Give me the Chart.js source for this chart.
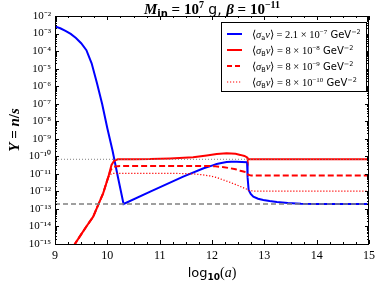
<!DOCTYPE html>
<html>
<head>
<meta charset="utf-8">
<script src="https://cdn.jsdelivr.net/npm/chart.js@4.4.1/dist/chart.umd.min.js"></script>
<style>
  html, body { margin: 0; padding: 0; background: #fff; }
  #wrap { width: 380px; height: 283px; }
</style>
</head>
<body>
<div id="wrap"><canvas id="chart"></canvas></div>
<script>
// x = log10(a), y values given as log10(Y)
const blueX = [9.00, 9.10, 9.20, 9.30, 9.40, 9.50, 9.60, 9.70, 9.80, 9.90, 10.00, 10.10, 10.20, 10.31,
  10.82, 11.45, 11.84, 12.00, 12.09, 12.18, 12.28, 12.37, 12.47, 12.57, 12.67, 12.68, 12.70, 12.74,
  12.79, 12.88, 12.98, 13.10, 13.24, 13.45, 13.70, 14.00, 15.00];
const blueLogY = [-2.60, -2.70, -2.85, -3.02, -3.25, -3.55, -3.95, -4.70, -5.80, -7.00, -8.40, -9.68, -11.15, -12.72,
  -12.01, -11.16, -10.68, -10.53, -10.44, -10.38, -10.33, -10.31, -10.31, -10.32, -10.34, -11.20, -11.92, -12.15,
  -12.30, -12.42, -12.49, -12.55, -12.60, -12.66, -12.70, -12.72, -12.72];

const redX = [9.30, 9.38, 9.50, 9.60, 9.73, 9.85, 9.92, 10.02, 10.08, 10.13, 10.20, 10.50, 10.82, 11.20,
  11.64, 11.90, 12.09, 12.28, 12.45, 12.54, 12.62, 12.67, 12.68, 13.00, 14.00, 15.00];
const redLogY = [-15.6, -15.0, -14.45, -14.0, -13.44, -12.6, -12.11, -11.16, -10.49, -10.25, -10.17, -10.17, -10.16, -10.12,
  -10.06, -9.95, -9.87, -9.83, -9.86, -9.92, -9.98, -10.06, -10.17, -10.17, -10.17, -10.17];

const redDashX = [9.30, 9.38, 9.50, 9.60, 9.73, 9.85, 9.92, 10.02, 10.07, 10.12, 10.20, 10.60, 11.00, 11.60,
  12.03, 12.20, 12.35, 12.45, 12.54, 12.62, 12.67, 12.69, 12.75, 13.00, 14.00, 15.00];
const redDashLogY = [-15.6, -15.0, -14.45, -14.0, -13.44, -12.6, -12.11, -11.16, -10.75, -10.60, -10.56, -10.55, -10.55, -10.55,
  -10.56, -10.61, -10.68, -10.74, -10.82, -10.88, -10.91, -11.05, -11.10, -11.10, -11.10, -11.10];

const redDotX = [9.30, 9.38, 9.50, 9.60, 9.73, 9.85, 9.92, 10.00, 10.05, 10.10, 10.20, 10.60, 11.00, 11.40,
  11.64, 11.80, 11.96, 12.10, 12.22, 12.35, 12.47, 12.58, 12.67, 12.70, 12.80, 13.00, 14.00, 15.00];
const redDotLogY = [-15.6, -15.0, -14.45, -14.0, -13.44, -12.6, -12.11, -11.35, -11.05, -10.98, -10.97, -10.97, -10.97, -10.98,
  -11.00, -11.05, -11.12, -11.22, -11.35, -11.49, -11.63, -11.77, -11.88, -11.95, -11.98, -11.98, -11.98, -11.98];

const refX = [9, 15];
const grayDotLogY = [-10.17, -10.17];
const grayDashLogY = [-12.72, -12.72];

const yTickExps = [-15, -14, -13, -12, -11, -10, -9, -8, -7, -6, -5, -4, -3, -2];
const xTicks = [9, 10, 11, 12, 13, 14, 15];

const pts = (xs, ys) => xs.map((x, i) => ({ x: x, y: Math.pow(10, ys[i]) }));

const SUP = { '-': '⁻', '0': '⁰', '1': '¹', '2': '²', '3': '³', '4': '⁴', '5': '⁵', '6': '⁶', '7': '⁷', '8': '⁸', '9': '⁹' };
const sup = s => String(s).split('').map(c => SUP[c]).join('');

const SERIF = '"Liberation Serif", serif';
const SANS = '"DejaVu Sans", sans-serif';

function drawRich(ctx, x, y, parts) {
  ctx.textBaseline = 'alphabetic';
  ctx.textAlign = 'left';
  for (const p of parts) {
    ctx.font = p.f;
    ctx.fillText(p.t, x, y + (p.dy || 0));
    x += ctx.measureText(p.t).width;
  }
  return x;
}
function richWidth(ctx, parts) {
  let w = 0;
  for (const p of parts) { ctx.font = p.f; w += ctx.measureText(p.t).width; }
  return w;
}

const decor = {
  id: 'decor',
  afterDraw(chart) {
    const ctx = chart.ctx;
    const a = chart.chartArea;
    const xs = chart.scales.x, ys = chart.scales.y;
    ctx.save();
    ctx.strokeStyle = '#000';
    ctx.lineWidth = 1;
    ctx.beginPath();
    // x ticks, top and bottom, inward
    for (let v = 9; v <= 15.001; v += 0.25) {
      const px = Math.round(xs.getPixelForValue(v)) + 0.5;
      const major = Math.abs(v - Math.round(v)) < 1e-6;
      const len = major ? 4 : 2;
      ctx.moveTo(px, a.bottom); ctx.lineTo(px, a.bottom - len);
      ctx.moveTo(px, a.top); ctx.lineTo(px, a.top + len);
    }
    // y ticks, log decades with minor 2..9
    for (let e = -15; e <= -2; e++) {
      for (let k = 1; k <= 9; k++) {
        const val = k * Math.pow(10, e);
        if (val > 1e-2 * 1.0001) break;
        const py = Math.round(ys.getPixelForValue(val)) + 0.5;
        const len = k === 1 ? 4 : 2;
        ctx.moveTo(a.left, py); ctx.lineTo(a.left + len, py);
        ctx.moveTo(a.right, py); ctx.lineTo(a.right - len, py);
      }
    }
    ctx.stroke();
    // frame
    ctx.strokeRect(Math.round(a.left) + 0.5, Math.round(a.top) + 0.5,
      Math.round(a.right - a.left) - 1, Math.round(a.bottom - a.top));

    // legend
    const lx = 221.5, ly = 22.5, lw = 145, lh = 69;
    ctx.fillStyle = '#fff';
    ctx.fillRect(lx, ly, lw, lh);
    ctx.strokeStyle = '#000';
    ctx.strokeRect(lx, ly, lw, lh);
    const rows = [
      { color: '#0000ff', dash: [], w: 2, sub: 'a', coef: '2.1', exp: '−7' },
      { color: '#ff0000', dash: [], w: 2, sub: 'B', coef: '8', exp: '−8' },
      { color: '#ff0000', dash: [5, 3], w: 2, sub: 'B', coef: '8', exp: '−9' },
      { color: '#ff0000', dash: [1.2, 1.8], w: 1.2, sub: 'B', coef: '8', exp: '−10' }
    ];
    rows.forEach((r, i) => {
      const yy = 34 + i * 16;
      ctx.strokeStyle = r.color;
      ctx.lineWidth = r.w;
      ctx.setLineDash(r.dash);
      ctx.beginPath();
      ctx.moveTo(227, yy); ctx.lineTo(242, yy);
      ctx.stroke();
      ctx.setLineDash([]);
      ctx.fillStyle = '#000';
      drawRich(ctx, 252, yy + 3.5, [
        { t: '⟨', f: '10.5px ' + SERIF },
        { t: 'σ', f: 'italic 10.5px ' + SERIF },
        { t: r.sub, f: '6.5px ' + SANS, dy: 2 },
        { t: 'v', f: 'italic 10.5px ' + SERIF },
        { t: '⟩ = ' + r.coef + ' × 10', f: '10.5px ' + SERIF },
        { t: r.exp, f: '7px ' + SERIF, dy: -4 },
        { t: ' GeV', f: '10px ' + SANS },
        { t: '−2', f: '6.5px ' + SANS, dy: -4 }
      ]);
    });

    // title
    ctx.fillStyle = '#000';
    const title = [
      { t: 'M', f: 'bold italic 15px ' + SERIF },
      { t: 'in', f: 'bold 10px ' + SANS, dy: 3 },
      { t: ' = 10', f: 'bold 15px ' + SERIF },
      { t: '7', f: 'bold 10px ' + SERIF, dy: -6 },
      { t: ' g, ', f: '14px ' + SANS },
      { t: 'β', f: 'bold italic 15px ' + SERIF },
      { t: ' = 10', f: 'bold 15px ' + SERIF },
      { t: '−11', f: 'bold 10px ' + SERIF, dy: -6 }
    ];
    const cx = (a.left + a.right) / 2;
    drawRich(ctx, cx - richWidth(ctx, title) / 2, 13.5, title);

    // x title
    const xt = [
      { t: 'log', f: '13px ' + SANS },
      { t: '10', f: 'bold 9px ' + SANS, dy: 3 },
      { t: '(', f: '14px ' + SERIF },
      { t: 'a', f: 'italic 14px ' + SERIF },
      { t: ')', f: '14px ' + SERIF }
    ];
    drawRich(ctx, cx - richWidth(ctx, xt) / 2, 277, xt);

    // y title
    ctx.save();
    ctx.translate(19, (a.top + a.bottom) / 2);
    ctx.rotate(-Math.PI / 2);
    const yt = [
      { t: 'Y', f: 'bold italic 15px ' + SERIF },
      { t: ' = ', f: 'bold 15px ' + SERIF },
      { t: 'n', f: 'bold italic 15px ' + SERIF },
      { t: '/', f: 'bold 15px ' + SERIF },
      { t: 's', f: 'bold italic 15px ' + SERIF }
    ];
    drawRich(ctx, -richWidth(ctx, yt) / 2, 0, yt);
    ctx.restore();
    ctx.restore();
  }
};

const lineDs = (label, xs, ys, color, width, dash) => ({
  label: label,
  data: pts(xs, ys),
  borderColor: color,
  borderWidth: width,
  borderDash: dash,
  pointRadius: 0,
  tension: 0,
  fill: false
});

new Chart(document.getElementById('chart').getContext('2d'), {
  type: 'line',
  data: {
    datasets: [
      lineDs('gray dotted', refX, grayDotLogY, '#808080', 1, [1, 2]),
      lineDs('gray dashed', refX, grayDashLogY, '#808080', 1.5, [5, 3]),
      lineDs('σB 8e-10', redDotX, redDotLogY, '#ff0000', 1.2, [1.2, 1.8]),
      lineDs('σB 8e-9', redDashX, redDashLogY, '#ff0000', 2, [6, 3]),
      lineDs('σB 8e-8', redX, redLogY, '#ff0000', 2, []),
      lineDs('σa 2.1e-7', blueX, blueLogY, '#0000ff', 2, [])
    ]
  },
  options: {
    responsive: true,
    maintainAspectRatio: false,
    animation: false,
    layout: { padding: { top: 16, right: 11, left: 0, bottom: 0 } },
    plugins: { legend: { display: false }, tooltip: { enabled: false }, title: { display: false } },
    scales: {
      x: {
        type: 'linear',
        min: 9, max: 15,
        grid: { display: false, drawTicks: false },
        border: { display: false },
        afterBuildTicks: s => { s.ticks = xTicks.map(v => ({ value: v })); },
        afterFit: s => { s.height = 39; },
        ticks: { padding: 5, color: '#000', font: { family: 'Liberation Serif', size: 12 }, maxRotation: 0 }
      },
      y: {
        type: 'logarithmic',
        min: 1e-15, max: 1e-2,
        grid: { display: false, drawTicks: false },
        border: { display: false },
        afterBuildTicks: s => { s.ticks = yTickExps.map(e => ({ value: Math.pow(10, e) })); },
        afterFit: s => { s.width = 55; },
        ticks: {
          padding: 4, color: '#000', font: { family: 'Liberation Serif', size: 11 }, autoSkip: false,
          callback: v => '10' + sup(Math.round(Math.log10(v)))
        }
      }
    }
  },
  plugins: [decor]
});
</script>
</body>
</html>
